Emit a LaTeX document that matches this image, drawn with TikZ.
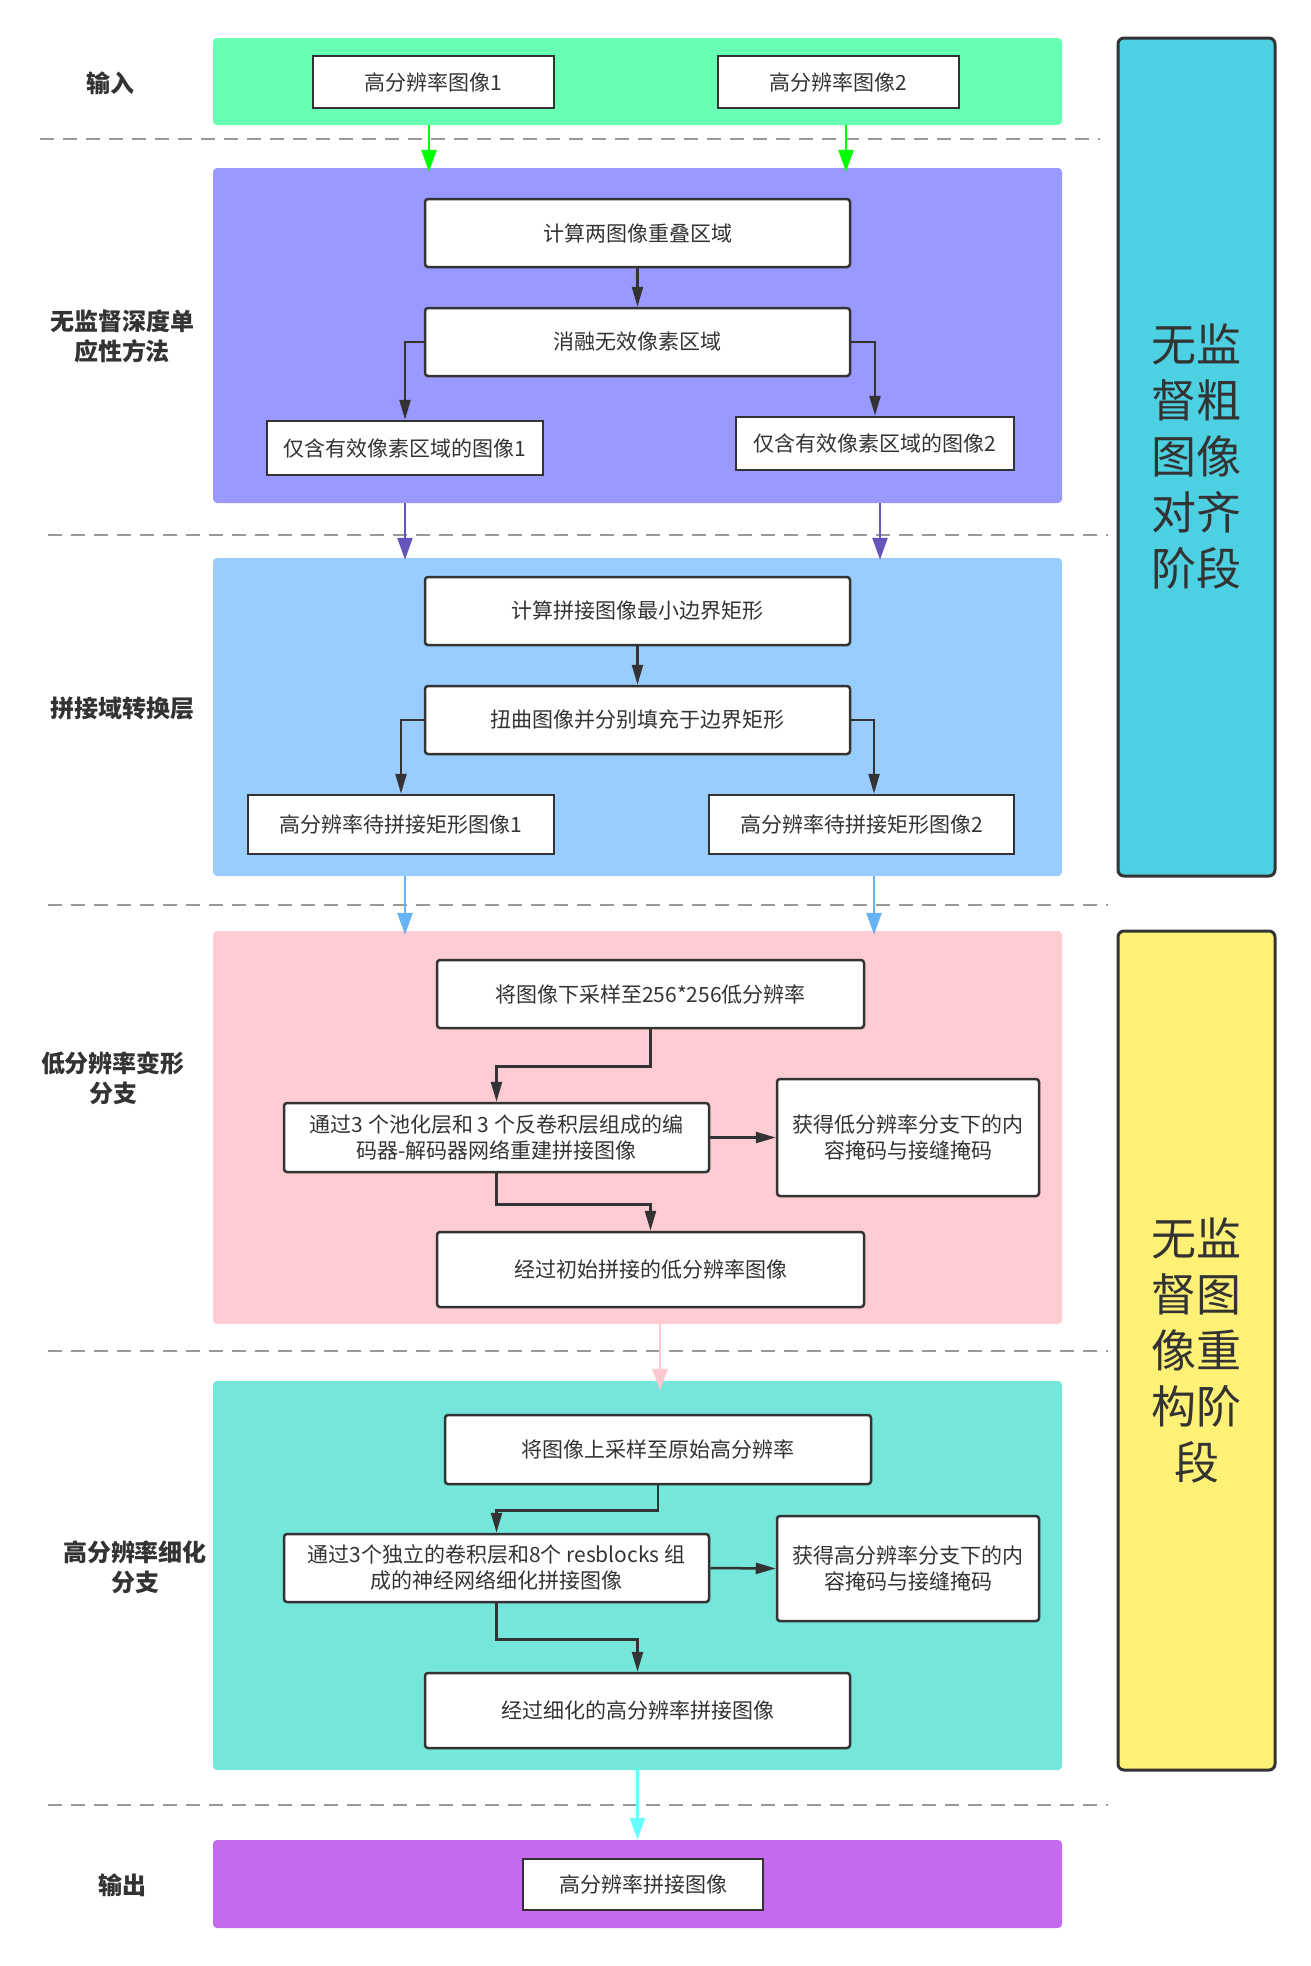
\documentclass[tikz,border=0pt]{standalone}
\usepackage{fontspec}
\setmainfont{Noto Sans CJK SC}
\usetikzlibrary{arrows.meta,calc}

\definecolor{txt}{HTML}{333333}
\definecolor{bandin}{HTML}{66FFB3}
\definecolor{bandhomo}{HTML}{9999FF}
\definecolor{bandwarp}{HTML}{99CCFF}
\definecolor{bandlow}{HTML}{FFCCD3}
\definecolor{bandhigh}{HTML}{74E6DA}
\definecolor{bandout}{HTML}{C56AEC}
\definecolor{stagecyan}{HTML}{4DD0E2}
\definecolor{stageyellow}{HTML}{FFF176}
\definecolor{arrgreen}{HTML}{00FF00}
\definecolor{arrpurple}{HTML}{6655BB}
\definecolor{arrblue}{HTML}{66B3F5}
\definecolor{arrpink}{HTML}{FFC8D0}
\definecolor{arrcyan}{HTML}{66FFFF}
\definecolor{sepgray}{HTML}{999999}

\tikzset{
  band/.style={fill=#1, draw=none, rounded corners=4pt, inner sep=0pt},
  procbox/.style={draw=txt, fill=white, line width=2.5pt, rounded corners=3pt,
    inner sep=0pt, align=center, text=txt, font=\fontsize{21}{26}\selectfont},
  databox/.style={procbox, rounded corners=0pt},
  sidelabel/.style={text=txt, align=center, font=\fontsize{24}{30}\selectfont\bfseries},
  stagebox/.style={draw=txt, fill=#1, line width=3pt, rounded corners=6pt,
    inner sep=0pt, align=center, text=txt, font=\fontsize{45}{56}\selectfont},
  flow/.style={draw=txt, line width=2.5pt, -{Triangle[length=20pt,width=11pt]}},
  bandarrow/.style={draw=#1, line width=2.5pt, -{Triangle[length=22pt,width=15pt]}},
  separator/.style={draw=sepgray, line width=2pt, dash pattern=on 14pt off 9pt},
}

\begin{document}
\begin{tikzpicture}[x=1pt,y=-1pt]
\useasboundingbox (0,0) rectangle (1311,1966);

% coloured bands for the six layers
\node[band=bandin,   minimum width=849pt, minimum height=87pt]  (bin)   at (637.5,81.5) {};
\node[band=bandhomo, minimum width=849pt, minimum height=335pt] (bhomo) at (637.5,335.5) {};
\node[band=bandwarp, minimum width=849pt, minimum height=318pt] (bwarp) at (637.5,717) {};
\node[band=bandlow,  minimum width=849pt, minimum height=393pt] (blow)  at (637.5,1127.5) {};
\node[band=bandhigh, minimum width=849pt, minimum height=389pt] (bhigh) at (637.5,1575.5) {};
\node[band=bandout,  minimum width=849pt, minimum height=88pt]  (bout)  at (637.5,1884) {};

% layer separators
\draw[separator] (40,139) -- (1100,139);
\draw[separator] (48,535) -- (1108,535);
\draw[separator] (48,905) -- (1108,905);
\draw[separator] (48,1351) -- (1108,1351);
\draw[separator] (48,1805) -- (1108,1805);

% layer names
\node[sidelabel] (lin)   at (110,83)   {输入};
\node[sidelabel] (lhomo) at (122,336)  {无监督深度单\\应性方法};
\node[sidelabel] (lwarp) at (122,708)  {拼接域转换层};
\node[sidelabel] (llow)  at (113,1078) {低分辨率变形\\分支};
\node[sidelabel] (lhigh) at (135,1567) {高分辨率细化\\分支};
\node[sidelabel] (lout)  at (122,1885) {输出};

% input
\node[databox, minimum width=241pt, minimum height=52pt] (in1) at (433.5,82) {高分辨率图像1};
\node[databox, minimum width=241pt, minimum height=52pt] (in2) at (838.5,82) {高分辨率图像2};

% unsupervised deep homography
\node[procbox, minimum width=425pt, minimum height=68pt] (a1) at (637.5,233) {计算两图像重叠区域};
\node[procbox, minimum width=425pt, minimum height=68pt] (a2) at (637.5,342) {消融无效像素区域};
\node[databox, minimum width=276pt, minimum height=54pt] (p1) at (405,448) {仅含有效像素区域的图像1};
\node[databox, minimum width=278pt, minimum height=53pt] (p2) at (875,443.5) {仅含有效像素区域的图像2};

% stitching-domain transformer
\node[procbox, minimum width=425pt, minimum height=68pt] (b1) at (637.5,611) {计算拼接图像最小边界矩形};
\node[procbox, minimum width=425pt, minimum height=68pt] (b2) at (637.5,720) {扭曲图像并分别填充于边界矩形};
\node[databox, minimum width=306pt, minimum height=59pt] (t1) at (401,824.5) {高分辨率待拼接矩形图像1};
\node[databox, minimum width=305pt, minimum height=59pt] (t2) at (861.5,824.5) {高分辨率待拼接矩形图像2};

% low-resolution deformation branch
\node[procbox, minimum width=427pt, minimum height=68pt] (c1) at (650.5,994) {将图像下采样至256*256低分辨率};
\node[procbox, minimum width=425pt, minimum height=69pt] (c2) at (496.5,1137.5) {通过3 个池化层和 3 个反卷积层组成的编\\码器-解码器网络重建拼接图像};
\node[procbox, minimum width=262pt, minimum height=117pt] (c3) at (908,1137.5) {获得低分辨率分支下的内\\容掩码与接缝掩码};
\node[procbox, minimum width=427pt, minimum height=75pt] (c4) at (650.5,1269.5) {经过初始拼接的低分辨率图像};

% high-resolution refinement branch
\node[procbox, minimum width=426pt, minimum height=69pt] (d1) at (658,1449.5) {将图像上采样至原始高分辨率};
\node[procbox, minimum width=425pt, minimum height=68pt] (d2) at (496.5,1568) {通过3个独立的卷积层和8个 resblocks 组\\成的神经网络细化拼接图像};
\node[procbox, minimum width=262pt, minimum height=105pt] (d3) at (908,1568.5) {获得高分辨率分支下的内\\容掩码与接缝掩码};
\node[procbox, minimum width=425pt, minimum height=75pt] (d4) at (637.5,1710.5) {经过细化的高分辨率拼接图像};

% output
\node[databox, minimum width=240pt, minimum height=51pt] (o1) at (643,1884.5) {高分辨率拼接图像};

% stages
\node[stagebox=stagecyan,   minimum width=157pt, minimum height=838pt] (s1) at (1196.5,457) {无监\\督粗\\图像\\对齐\\阶段};
\node[stagebox=stageyellow, minimum width=157pt, minimum height=839pt] (s2) at (1196.5,1350.5) {无监\\督图\\像重\\构阶\\段};

% flows inside the layers
\draw[flow] (a1.south) -- (a2.north);
\draw[flow] (a2.west) -| (p1.north);
\draw[flow] (a2.east) -| (p2.north);

\draw[flow] (b1.south) -- (b2.north);
\draw[flow] (b2.west) -| (t1.north);
\draw[flow] (b2.east) -| ([xshift=12.5pt]t2.north);

\draw[flow] (c1.south) -- ++(0,37) -| (c2.north);
\draw[flow] (c2.east) -- (c3.west);
\draw[flow] (c2.south) -- ++(0,31) -| (c4.north);

\draw[flow] (d1.south) -- ++(0,25) -| (d2.north);
\draw[flow] (d2.east) -- (d3.west);
\draw[flow] (d2.south) -- ++(0,36) -| (d4.north);

% flows between the layers
\draw[bandarrow=arrgreen] ([xshift=-4.5pt]bin.south -| in1.south) -- ([xshift=-4.5pt,yshift=-4pt]bhomo.north -| in1.south);
\draw[bandarrow=arrgreen] ([xshift=7.5pt]bin.south -| in2.south) -- ([xshift=7.5pt,yshift=-4pt]bhomo.north -| in2.south);
\draw[bandarrow=arrpurple] (bhomo.south -| p1.south) -- ([yshift=-2pt]bwarp.north -| p1.south);
\draw[bandarrow=arrpurple] ([xshift=5pt]bhomo.south -| p2.south) -- ([xshift=5pt,yshift=-2pt]bwarp.north -| p2.south);
\draw[bandarrow=arrblue] ([xshift=4pt]bwarp.south -| t1.south) -- ([xshift=4pt,yshift=-4pt]blow.north -| t1.south);
\draw[bandarrow=arrblue] ([xshift=12.5pt]bwarp.south -| t2.south) -- ([xshift=12.5pt,yshift=-4pt]blow.north -| t2.south);
\draw[bandarrow=arrpink] ([xshift=9.5pt]blow.south -| c4.south) -- ([xshift=9.5pt,yshift=-10pt]bhigh.north -| c4.south);
\draw[bandarrow=arrcyan] (bhigh.south -| d4.south) -- (bout.north -| d4.south);
\end{tikzpicture}
\end{document}
